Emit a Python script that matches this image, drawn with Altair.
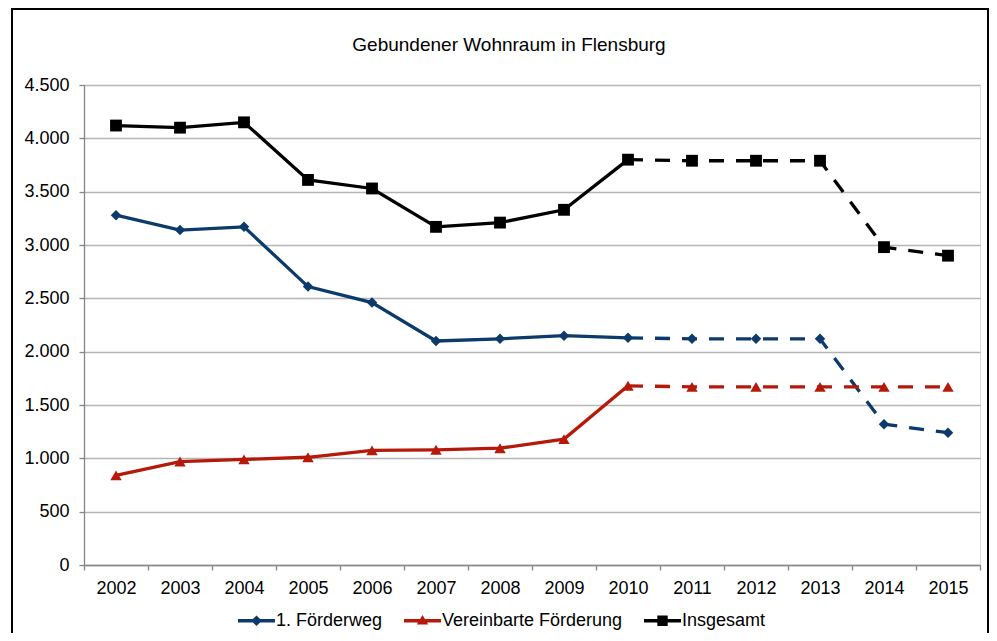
import altair as alt
import pandas as pd

years = ["2002", "2003", "2004", "2005", "2006", "2007", "2008",
         "2009", "2010", "2011", "2012", "2013", "2014", "2015"]
series_names = ["1. Förderweg", "Vereinbarte Förderung", "Insgesamt"]
foerderweg = [3280, 3140, 3170, 2610, 2460, 2100, 2120, 2150, 2130, 2120, 2120, 2120, 1320, 1240]
vereinbart = [840, 970, 990, 1010, 1075, 1080, 1095, 1180, 1680, 1670, 1670, 1670, 1670, 1670]
insgesamt = [4120, 4100, 4150, 3610, 3530, 3170, 3210, 3330, 3800, 3790, 3790, 3790, 2980, 2900]
colors = ["#0b3a6b", "#b5190a", "#000000"]
marker_shapes = ["diamond", "triangle-up", "square"]
y_ticks = [0, 500, 1000, 1500, 2000, 2500, 3000, 3500, 4000, 4500]
split_year = "2010"

rows = []
for name, vals in zip(series_names, [foerderweg, vereinbart, insgesamt]):
    for yr, v in zip(years, vals):
        rows.append({"Jahr": yr, "Serie": name, "Wert": v})
df = pd.DataFrame(rows)
df["solid"] = df["Jahr"] <= split_year
df["dashed"] = df["Jahr"] >= split_year

FONT = "Liberation Sans"
W, H = 896, 480

x_enc = alt.X(
    "Jahr:O",
    sort=years,
    bandPosition=0.5,
    scale=alt.Scale(type="band", paddingInner=0, paddingOuter=0, domain=years),
    axis=alt.Axis(
        title=None, labelAngle=0, tickBand="extent", grid=False,
        domainColor="#868686", tickColor="#868686", tickSize=5,
        labelFont=FONT, labelFontSize=18, labelColor="#000000", labelPadding=9,
        domainWidth=1.3, tickWidth=1.3,
    ),
)
y_enc = alt.Y(
    "Wert:Q",
    scale=alt.Scale(domain=[0, 4500], nice=False),
    axis=alt.Axis(
        title=None, values=y_ticks, grid=True, gridColor="#b5b5b5", gridWidth=1.4,
        domainColor="#868686", tickColor="#868686", tickSize=5,
        domainWidth=1.3, tickWidth=1.3,
        labelFont=FONT, labelFontSize=18, labelColor="#000000", labelPadding=10,
        labelExpr="replace(format(datum.value, ','), ',', '.')",
    ),
)
color_scale = alt.Scale(domain=series_names, range=colors)

base = alt.Chart(df)

# legend carrier: line + marker symbols (placed first so its legend settings win)
line_part = "M-1,-0.09H1V0.09H-1Z"
legend_paths = [
    line_part + "M0,-0.29L0.29,0L0,0.29L-0.29,0Z",
    line_part + "M0,-0.31L0.31,0.2L-0.31,0.2Z",
    line_part + "M-0.28,-0.28H0.28V0.28H-0.28Z",
]
legend_layer = base.transform_filter("false").mark_point(filled=True, opacity=1).encode(
    x=x_enc, y=y_enc,
    color=alt.Color(
        "Serie:N", scale=color_scale,
        legend=alt.Legend(
            title=None, orient="none", legendX=154, legendY=517, direction="horizontal",
            symbolSize=1369, symbolStrokeWidth=0, labelFont=FONT, labelFontSize=18,
            labelColor="#000000", labelOffset=1, columnPadding=21, padding=0,
            labelLimit=0, values=series_names,
        ),
    ),
    shape=alt.Shape("Serie:N", scale=alt.Scale(domain=series_names, range=legend_paths)),
)

solid = base.transform_filter("datum.solid").mark_line(strokeWidth=3.3).encode(
    x=x_enc, y=y_enc,
    color=alt.Color("Serie:N", scale=color_scale, legend=None),
    detail="Serie:N",
)
dashed = base.transform_filter("datum.dashed").mark_line(
    strokeWidth=3.3, strokeDash=[15, 12], strokeCap="butt"
).encode(
    x=x_enc, y=y_enc,
    color=alt.Color("Serie:N", scale=color_scale, legend=None),
    detail="Serie:N",
)

point_layers = []
for name, shp, sz in zip(series_names, marker_shapes, [110, 130, 140]):
    point_layers.append(
        base.transform_filter(alt.datum.Serie == name).mark_point(
            filled=True, opacity=1, size=sz, shape=shp, strokeWidth=1
        ).encode(
            x=x_enc, y=y_enc,
            color=alt.Color("Serie:N", scale=color_scale, legend=None),
        )
    )

frame = alt.Chart(pd.DataFrame({"f": [0]})).mark_rect(
    fill=None, stroke="#000000", strokeWidth=2
).encode(
    x=alt.value(-72), x2=alt.value(904), y=alt.value(-76), y2=alt.value(620)
)

chart = alt.layer(legend_layer, frame, solid, dashed, *point_layers).properties(
    width=W, height=H,
    title=alt.TitleParams(
        text="Gebundener Wohnraum in Flensburg", font=FONT, fontSize=19,
        fontWeight="normal", color="#000000", anchor="middle", offset=0, dy=47, dx=-23,
    ),
    autosize=alt.AutoSizeParams(type="none"),
    padding={"left": 76, "top": 77, "right": 9, "bottom": 68},
).configure_view(stroke=None).configure(background="#ffffff")

chart.save("out.html", embed_options={"renderer": "svg", "actions": False})
